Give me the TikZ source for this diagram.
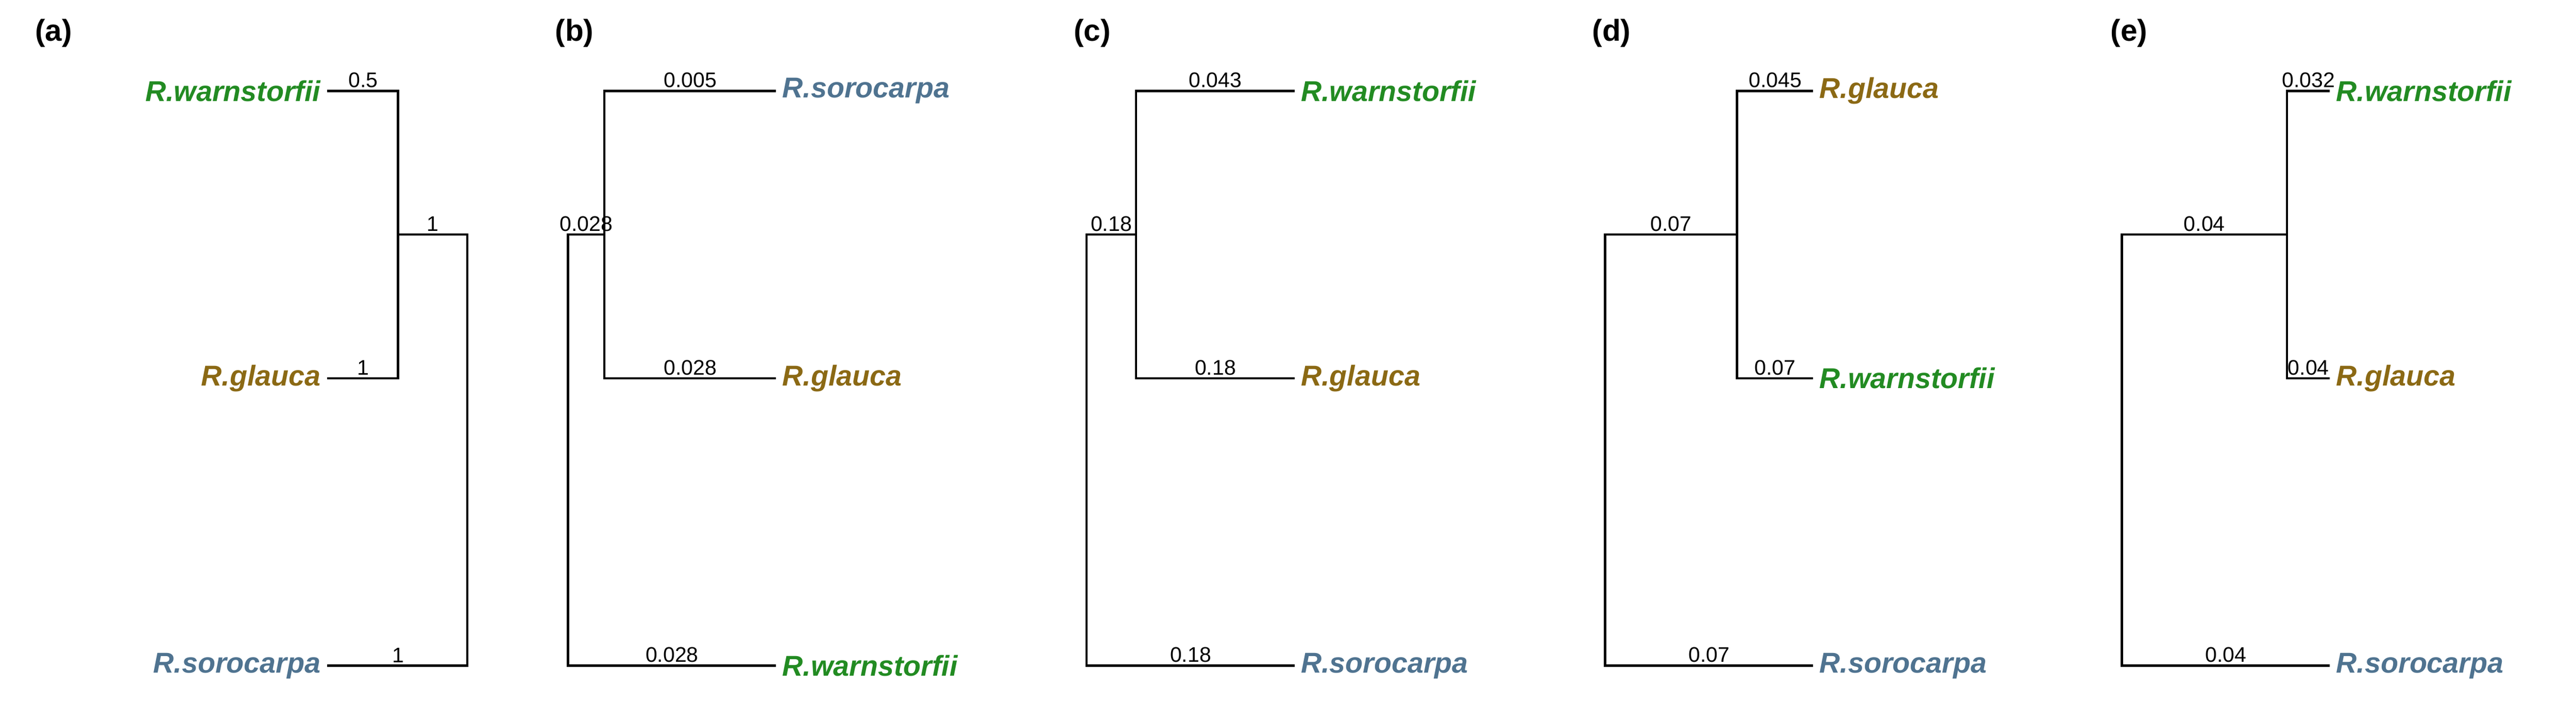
\documentclass[tikz,border=0pt]{standalone}
\usepackage{fontspec}
\setmainfont{Liberation Sans}
\usepackage{tikz}
\usetikzlibrary{positioning}
\definecolor{cwarn}{HTML}{228B22}
\definecolor{cglau}{HTML}{8B6914}
\definecolor{csoro}{HTML}{4F7390}
\tikzset{
  branch/.style={line width=1.6pt},
  blen/.style={font=\fontsize{14}{14}\selectfont, above=1pt, inner sep=1pt},
  taxon/.style={font=\fontsize{19}{19}\selectfont\bfseries\itshape, inner sep=2pt},
  panel/.style={font=\fontsize{20}{20}\selectfont\bfseries, anchor=west}
}
\begin{document}
\begin{tikzpicture}[x=0.03846cm,y=-0.03846cm]
\useasboundingbox (0,0) rectangle (1560,435);
% (a)
\node[panel] (pa) at (18,20) {(a)};
\coordinate (a1) at (198,55); \coordinate (a2) at (198,229); \coordinate (a3) at (198,403);
\coordinate (ai) at (241,142); \coordinate (ar) at (283,142);
\draw[branch] (a1) -| (ai) |- (a2);
\draw[branch] (ai) -- (ar) |- (a3);
\node[taxon, cwarn, left=2pt of a1] (ta1) {R.warnstorfii};
\node[taxon, cglau, left=2pt of a2] (ta2) {R.glauca};
\node[taxon, csoro, left=2pt of a3] (ta3) {R.sorocarpa};
\node[blen] at (220,55) {0.5};
\node[blen] at (220,229) {1};
\node[blen] at (241,403) {1};
\node[blen] at (262,142) {1};
% (b)
\node[panel] (pb) at (333,20) {(b)};
\coordinate (b1) at (470,55); \coordinate (b2) at (470,229); \coordinate (b3) at (470,403);
\coordinate (bi) at (366,142); \coordinate (br) at (344,142);
\draw[branch] (b1) -| (bi) |- (b2);
\draw[branch] (bi) -- (br) |- (b3);
\node[taxon, csoro, right=2pt of b1] (tb1) {R.sorocarpa};
\node[taxon, cglau, right=2pt of b2] (tb2) {R.glauca};
\node[taxon, cwarn, right=2pt of b3] (tb3) {R.warnstorfii};
\node[blen] at (418,55) {0.005};
\node[blen] at (418,229) {0.028};
\node[blen] at (407,403) {0.028};
\node[blen] at (355,142) {0.028};
% (c)
\node[panel] (pc) at (647,20) {(c)};
\coordinate (c1) at (784,55); \coordinate (c2) at (784,229); \coordinate (c3) at (784,403);
\coordinate (ci) at (688,142); \coordinate (cr) at (658,142);
\draw[branch] (c1) -| (ci) |- (c2);
\draw[branch] (ci) -- (cr) |- (c3);
\node[taxon, cwarn, right=2pt of c1] (tc1) {R.warnstorfii};
\node[taxon, cglau, right=2pt of c2] (tc2) {R.glauca};
\node[taxon, csoro, right=2pt of c3] (tc3) {R.sorocarpa};
\node[blen] at (736,55) {0.043};
\node[blen] at (736,229) {0.18};
\node[blen] at (721,403) {0.18};
\node[blen] at (673,142) {0.18};
% (d)
\node[panel] (pd) at (961,20) {(d)};
\coordinate (d1) at (1098,55); \coordinate (d2) at (1098,229); \coordinate (d3) at (1098,403);
\coordinate (di) at (1052,142); \coordinate (dr) at (972,142);
\draw[branch] (d1) -| (di) |- (d2);
\draw[branch] (di) -- (dr) |- (d3);
\node[taxon, cglau, right=2pt of d1] (td1) {R.glauca};
\node[taxon, cwarn, right=2pt of d2] (td2) {R.warnstorfii};
\node[taxon, csoro, right=2pt of d3] (td3) {R.sorocarpa};
\node[blen] at (1075,55) {0.045};
\node[blen] at (1075,229) {0.07};
\node[blen] at (1035,403) {0.07};
\node[blen] at (1012,142) {0.07};
% (e)
\node[panel] (pe) at (1275,20) {(e)};
\coordinate (e1) at (1411,55); \coordinate (e2) at (1411,229); \coordinate (e3) at (1411,403);
\coordinate (ei) at (1385,142); \coordinate (er) at (1285,142);
\draw[branch] (e1) -| (ei) |- (e2);
\draw[branch] (ei) -- (er) |- (e3);
\node[taxon, cwarn, right=2pt of e1] (te1) {R.warnstorfii};
\node[taxon, cglau, right=2pt of e2] (te2) {R.glauca};
\node[taxon, csoro, right=2pt of e3] (te3) {R.sorocarpa};
\node[blen] at (1398,55) {0.032};
\node[blen] at (1398,229) {0.04};
\node[blen] at (1348,403) {0.04};
\node[blen] at (1335,142) {0.04};
\end{tikzpicture}
\end{document}
